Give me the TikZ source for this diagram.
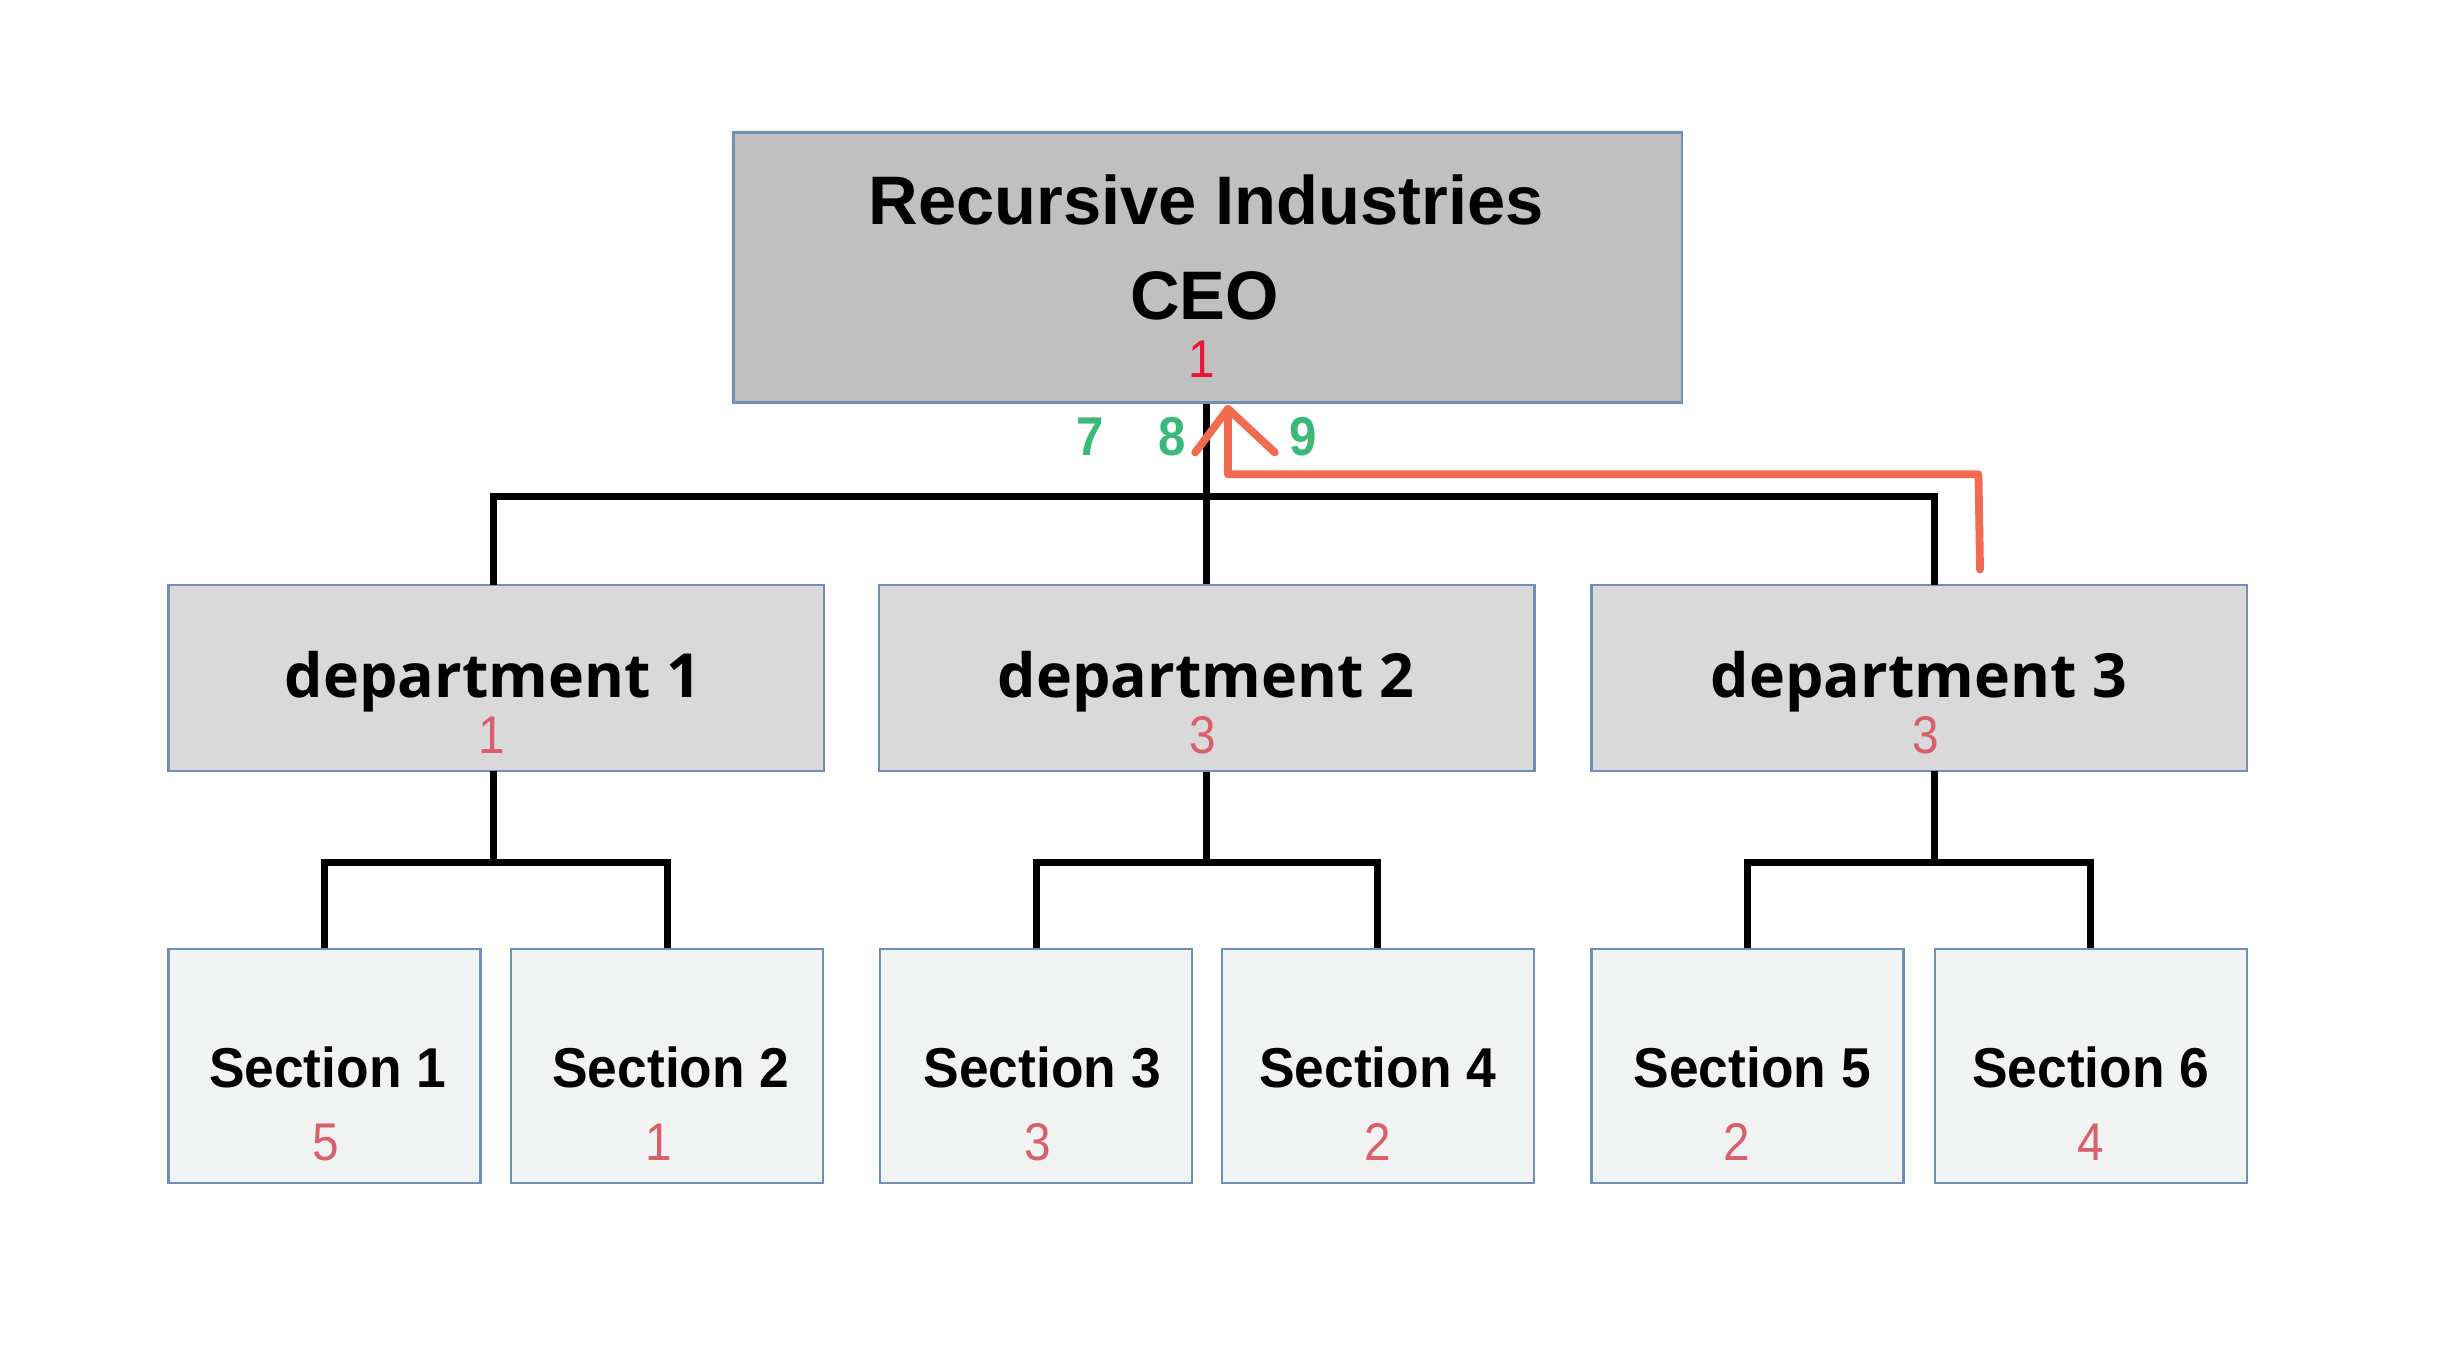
\documentclass[tikz,border=0pt]{standalone}
\usepackage{fontspec}
\setmainfont{Liberation Sans}
\newfontfamily\deptfont{Open Sans}
\newfontfamily\secfont[FakeStretch=0.95]{Liberation Sans}
\newfontfamily\numfont[FakeStretch=0.9]{Liberation Sans}
\definecolor{ceofill}{HTML}{C0C0C0}
\definecolor{depfill}{HTML}{D9D9D9}
\definecolor{secfill}{HTML}{F1F2F2}
\definecolor{boxline}{HTML}{7090B8}
\definecolor{ceored}{HTML}{E8173A}
\definecolor{numred}{HTML}{D95F6B}
\definecolor{numgreen}{HTML}{3CB878}
\definecolor{arrowred}{HTML}{F06B4F}
\begin{document}
\begin{tikzpicture}[x=1pt,y=-1pt,
  box/.style={draw=boxline,line width=1.5pt,rectangle,inner sep=0pt},
  ceobox/.style={box,fill=ceofill,minimum width=608pt,minimum height=173pt},
  depbox/.style={box,fill=depfill,minimum width=420pt,minimum height=119pt},
  secbox/.style={box,fill=secfill,minimum width=200pt,minimum height=150pt},
  conn/.style={draw=black,line width=4.5pt,line join=miter},
  redline/.style={draw=arrowred,line width=5pt,line cap=round,line join=round},
  txt/.style={inner sep=0pt,anchor=base},
  ceotxt/.style={txt,font=\bfseries\fontsize{44}{50}\selectfont},
  deptxt/.style={txt,font=\deptfont\bfseries\fontsize{39}{44}\selectfont},
  sectxt/.style={txt,font=\secfont\bfseries\fontsize{36}{42}\selectfont},
  num/.style={txt,text=numred,font=\numfont\fontsize{34}{38}\selectfont},
  gnum/.style={txt,text=numgreen,font=\numfont\bfseries\fontsize{35}{40}\selectfont}
]
\fill[white] (0,0) rectangle (1567,870);
\useasboundingbox (0,0) rectangle (1567,870);

% boxes
\node[ceobox] (ceo) at (774,171.5) {};
\node[depbox] (dep1) at (318,434.5) {};
\node[depbox] (dep2) at (773.5,434.5) {};
\node[depbox] (dep3) at (1230,434.5) {};
\node[secbox] (s1) at (208,683) {};
\node[secbox] (s2) at (427.5,683) {};
\node[secbox] (s3) at (664,683) {};
\node[secbox] (s4) at (883,683) {};
\node[secbox] (s5) at (1120,683) {};
\node[secbox] (s6) at (1340,683) {};

% texts
\node[ceotxt] (t0a) at (773,144) {Recursive Industries};
\node[ceotxt] (t0b) at (772,205) {CEO};
\node[txt,text=ceored,font=\numfont\fontsize{34}{38}\selectfont] (n0) at (770,242) {1};

\node[deptxt] (t1) at (316,447) {department 1};
\node[deptxt] (t2) at (773,447) {department 2};
\node[deptxt] (t3) at (1230,447) {department 3};
\node[num] (n1) at (315,483) {1};
\node[num] (n2) at (771,483) {3};
\node[num] (n3) at (1234,483) {3};

\node[sectxt] (ts1) at (210,697) {Section 1};
\node[sectxt] (ts2) at (430,697) {Section 2};
\node[sectxt] (ts3) at (668,697) {Section 3};
\node[sectxt] (ts4) at (883,697) {Section 4};
\node[sectxt] (ts5) at (1123,697) {Section 5};
\node[sectxt] (ts6) at (1340,697) {Section 6};
\node[num] (ns1) at (209,744) {5};
\node[num] (ns2) at (422,744) {1};
\node[num] (ns3) at (665,744) {3};
\node[num] (ns4) at (883,744) {2};
\node[num] (ns5) at (1113,744) {2};
\node[num] (ns6) at (1340,744) {4};

\node[gnum] (g7) at (699,292) {7};
\node[gnum] (g8) at (751,292) {8};
\node[gnum] (g9) at (835,292) {9};

% connector coordinates
\coordinate (bus) at (773,318);
\coordinate (d1t) at (316,375);
\coordinate (d3t) at (1240,375);
\coordinate (d1b) at (316,494);
\coordinate (d3b) at (1240,494);
\coordinate (b1) at (316,553);
\coordinate (b2) at (773,553);
\coordinate (b3) at (1240,553);

% upper tree
\draw[conn] (ceo.south -| bus) -- (dep2.north -| bus);
\draw[conn] (d1t) |- (bus) -| (d3t);

% lower trees
\draw[conn] (d1b) -- (b1);
\draw[conn] (s1.north) |- (b1) -| (s2.north);
\draw[conn] (dep2.south -| b2) -- (b2);
\draw[conn] (s3.north) |- (b2) -| (s4.north);
\draw[conn] (d3b) -- (b3);
\draw[conn] (s5.north) |- (b3) -| (s6.north);

% red arrow
\coordinate (r0) at (1269,365);
\coordinate (rc) at (1268,304);
\coordinate (tip) at (787,262);
\coordinate (hl) at (766,290);
\coordinate (hr) at (817,290);
\draw[redline] (r0) -- (rc) -- (tip |- rc) -- (tip);
\draw[redline] (hl) -- (tip) -- (hr);
\end{tikzpicture}
\end{document}
